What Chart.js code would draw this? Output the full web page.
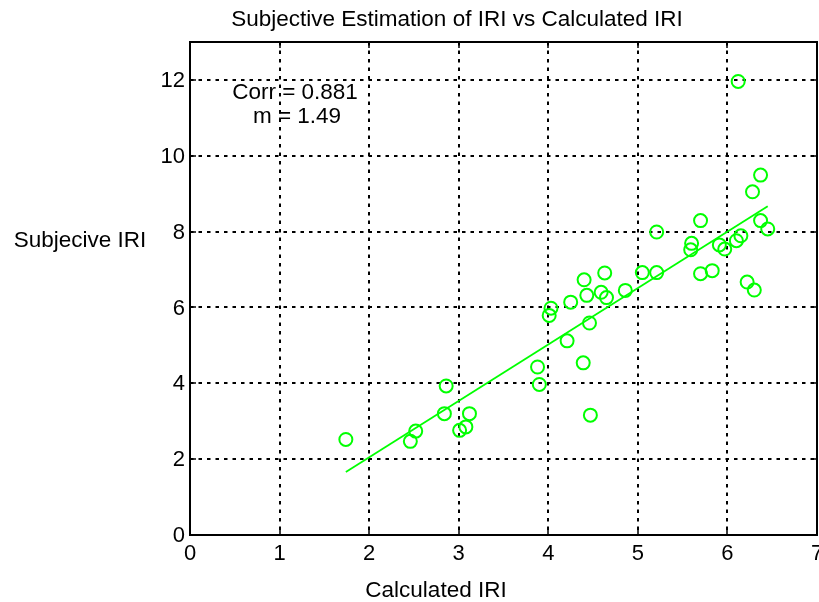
<!DOCTYPE html>
<html><head><meta charset="utf-8">
<script src="https://cdn.jsdelivr.net/npm/chart.js@4/dist/chart.umd.min.js"></script>
<style>html,body{margin:0;padding:0;background:#fff;overflow:hidden;width:819px;height:602px}canvas{display:block}</style>
</head><body>
<canvas id="c" width="830" height="602"></canvas>
<script>
// Data
const calcIRI = [1.74, 2.46, 2.52, 2.84, 2.86, 3.01, 3.08, 3.12, 3.88, 3.90,
                 4.01, 4.03, 4.21, 4.25, 4.39, 4.40, 4.43, 4.46, 4.47, 4.59,
                 4.63, 4.65, 4.86, 5.05, 5.21, 5.21, 5.59, 5.60, 5.70, 5.70,
                 5.83, 5.91, 5.97, 6.10, 6.12, 6.15, 6.22, 6.28, 6.30, 6.37,
                 6.37, 6.45];
const subjIRI = [2.52, 2.47, 2.74, 3.20, 3.93, 2.76, 2.85, 3.20, 4.43, 3.97,
                 5.79, 5.98, 5.12, 6.14, 4.54, 6.73, 6.32, 5.59, 3.16, 6.40,
                 6.91, 6.26, 6.45, 6.92, 7.99, 6.92, 7.52, 7.69, 8.29, 6.89,
                 6.97, 7.65, 7.54, 7.76, 11.96, 7.89, 6.67, 9.05, 6.46, 9.49,
                 8.29, 8.07];
const fitX = [1.74, 6.45];
const fitY = [1.66, 8.67];
const xTicks = [0, 1, 2, 3, 4, 5, 6, 7];
const yTicks = [0, 2, 4, 6, 8, 10, 12];
const xTickLabels = ['0', '1', '2', '3', '4', '5', '6', '7'];
const yTickLabels = ['0', '2', '4', '6', '8', '10', '12'];
const titleText = 'Subjective Estimation of IRI vs Calculated IRI';
const xLabel = 'Calculated IRI';
const yLabel = 'Subjecive IRI';
const statLines = ['Corr = 0.881', 'm = 1.49'];

const FONT = '"Liberation Sans", Arial, Helvetica, sans-serif';
const GREEN = '#00ff00';

const decor = {
  id: 'decor',
  beforeDraw(chart) {
    const ctx = chart.ctx;
    ctx.save();
    ctx.fillStyle = '#fff';
    ctx.fillRect(0, 0, chart.width, chart.height);
    ctx.restore();
  },
  afterDatasetsDraw(chart) {
    const { ctx, chartArea: a, scales: { x, y } } = chart;
    ctx.save();
    ctx.strokeStyle = '#000';
    ctx.setLineDash([]);
    ctx.lineWidth = 2;
    ctx.strokeRect(a.left, a.top, a.right - a.left, a.bottom - a.top);
    ctx.lineWidth = 1.5;
    ctx.beginPath();
    xTicks.forEach(v => {
      const px = Math.round(x.getPixelForValue(v));
      ctx.moveTo(px, a.bottom); ctx.lineTo(px, a.bottom - 6);
      ctx.moveTo(px, a.top); ctx.lineTo(px, a.top + 6);
    });
    yTicks.forEach(v => {
      const py = Math.round(y.getPixelForValue(v));
      ctx.moveTo(a.left, py); ctx.lineTo(a.left + 6, py);
      ctx.moveTo(a.right, py); ctx.lineTo(a.right - 6, py);
    });
    ctx.stroke();

    ctx.fillStyle = '#000';
    ctx.font = '22px ' + FONT;
    ctx.textBaseline = 'middle';
    ctx.textAlign = 'center';
    xTicks.forEach((v, i) => {
      ctx.fillText(xTickLabels[i], x.getPixelForValue(v), a.bottom + 19);
    });
    ctx.textAlign = 'right';
    yTicks.forEach((v, i) => {
      ctx.fillText(yTickLabels[i], a.left - 5, y.getPixelForValue(v) + 1);
    });

    ctx.font = '22.5px ' + FONT;
    ctx.textAlign = 'center';
    ctx.fillText(titleText, 457, 20);
    ctx.fillText(xLabel, 436, 591);
    ctx.fillText(yLabel, 80, 241);
    ctx.fillText(statLines[0], 295, 93);
    ctx.fillText(statLines[1], 297, 117);
    ctx.restore();
  }
};

new Chart(document.getElementById('c'), {
  data: {
    datasets: [
      {
        type: 'scatter',
        data: calcIRI.map((v, i) => ({ x: v, y: subjIRI[i] })),
        pointStyle: 'circle',
        pointRadius: 6.5,
        pointBorderWidth: 2,
        borderColor: GREEN,
        backgroundColor: 'rgba(0,0,0,0)',
        showLine: false
      },
      {
        type: 'scatter',
        data: fitX.map((v, i) => ({ x: v, y: fitY[i] })),
        showLine: true,
        pointRadius: 0,
        borderColor: GREEN,
        borderWidth: 1.8,
        fill: false
      }
    ]
  },
  options: {
    responsive: false,
    animation: false,
    devicePixelRatio: 1,
    events: [],
    layout: { padding: { left: 190, right: 13, top: 42, bottom: 67 } },
    plugins: { legend: { display: false }, tooltip: { enabled: false }, title: { display: false } },
    scales: {
      x: {
        type: 'linear', min: 0, max: 7,
        afterBuildTicks: s => { s.ticks = xTicks.map(v => ({ value: v })); },
        afterFit: s => { s.height = 0; },
        grid: { color: '#000', lineWidth: 2, drawTicks: false },
        border: { display: false, dash: [3.5, 5] },
        ticks: { display: false }
      },
      y: {
        type: 'linear', min: 0, max: 13,
        afterBuildTicks: s => { s.ticks = yTicks.map(v => ({ value: v })); },
        afterFit: s => { s.width = 0; },
        grid: { color: '#000', lineWidth: 2, drawTicks: false },
        border: { display: false, dash: [3.5, 5] },
        ticks: { display: false }
      }
    }
  },
  plugins: [decor]
});
</script>
</body></html>
